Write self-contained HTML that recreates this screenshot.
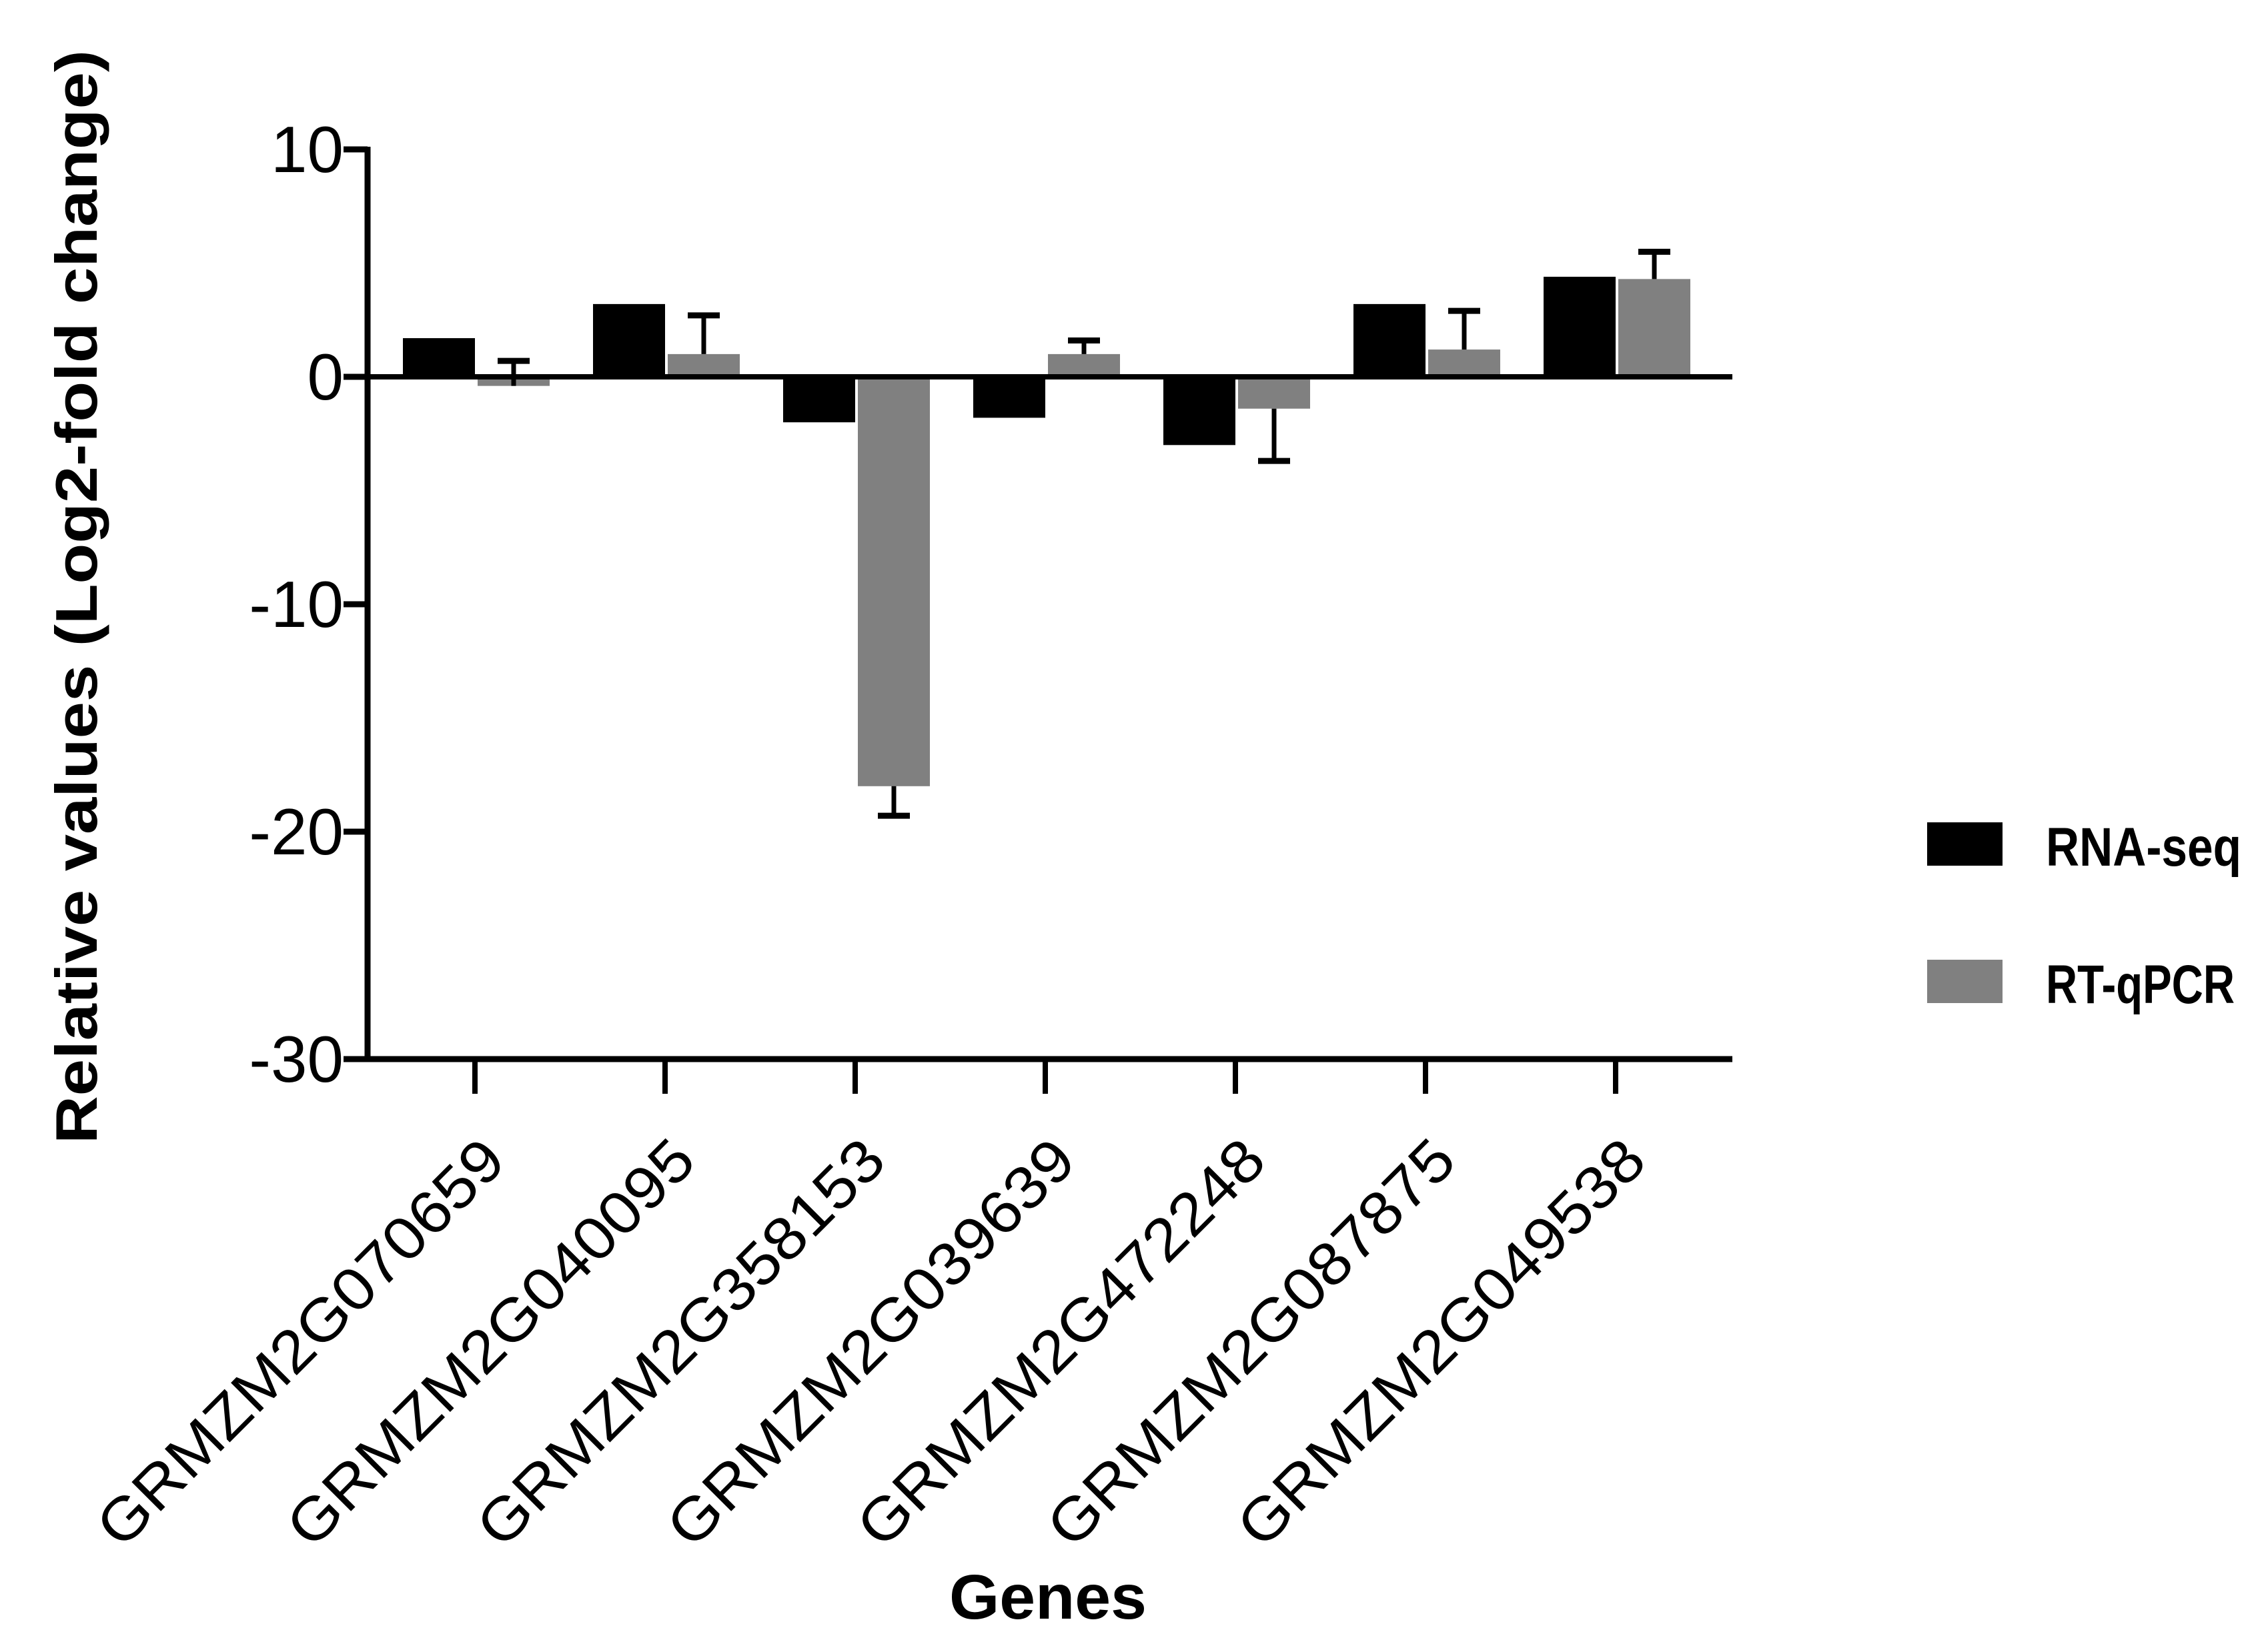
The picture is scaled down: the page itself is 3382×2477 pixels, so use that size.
<!DOCTYPE html>
<html><head><meta charset="utf-8"><style>html,body{margin:0;padding:0;background:#fff}svg{display:block}</style></head>
<body>
<svg id="chart" width="3382" height="2477" viewBox="0 0 3382 2477" xmlns="http://www.w3.org/2000/svg" font-family="Liberation Sans, sans-serif"></svg>
<script>
const categories = ["GRMZM2G070659","GRMZM2G040095","GRMZM2G358153","GRMZM2G039639","GRMZM2G472248","GRMZM2G087875","GRMZM2G049538"];
const rnaSeq = [1.7, 3.2, -2.0, -1.8, -3.0, 3.2, 4.4];
const rtqpcr = [-0.4, 1.0, -18.0, 1.0, -1.4, 1.2, 4.3];
const rtqpcrErrEnd = [0.7, 2.7, -19.3, 1.6, -3.7, 2.9, 5.5];
const yTicks = [10, 0, -10, -20, -30];

const NS = "http://www.w3.org/2000/svg";
const svg = document.getElementById("chart");
const X0 = 551, X1 = 2597, Y10 = 224, Ym30 = 1588;
const yScale = v => Y10 + (10 - v) * (Ym30 - Y10) / 40;
const catX = i => 712 + i * 285;
const BW = 108;
function mk(tag, attrs) { const e = document.createElementNS(NS, tag); for (const k in attrs) e.setAttribute(k, attrs[k]); svg.appendChild(e); return e; }

categories.forEach((c, i) => {
  const cx = catX(i);
  const y0 = yScale(0);
  const yb = yScale(rnaSeq[i]);
  const b = mk("rect", {x: cx - BW, y: Math.min(y0, yb), width: BW, height: Math.abs(yb - y0), fill: "#000"});
  
  
  const yg = yScale(rtqpcr[i]);
  const g = mk("rect", {x: cx + 4, y: Math.min(y0, yg), width: BW, height: Math.abs(yg - y0), fill: "#808080"});
  
  
  const ye = yScale(rtqpcrErrEnd[i]);
  const ex = cx + 4 + BW / 2;
  const e1 = mk("line", {x1: ex, x2: ex, y1: yg, y2: ye, stroke: "#000", "stroke-width": 7});
  
  
  const e2 = mk("line", {x1: ex - 24, x2: ex + 24, y1: ye, y2: ye, stroke: "#000", "stroke-width": 9});
  
  
  const t = mk("line", {x1: cx, x2: cx, y1: Ym30, y2: Ym30 + 52, stroke: "#000", "stroke-width": 8});
  
  
  const lx = cx + 50, ly = 1745;
  const l = mk("text", {x: lx, y: ly, "text-anchor": "end", "font-size": 90, textLength: 820, lengthAdjust: "spacingAndGlyphs", transform: `rotate(-45 ${lx} ${ly})`});
  l.textContent = c;
  
  
});

const ya = mk("line", {x1: X0, x2: X0, y1: Y10 - 4, y2: Ym30 + 4, stroke: "#000", "stroke-width": 9});


const za = mk("line", {x1: X0, x2: X1, y1: yScale(0), y2: yScale(0), stroke: "#000", "stroke-width": 8});


const xa = mk("line", {x1: X0 - 4, x2: X1, y1: Ym30, y2: Ym30, stroke: "#000", "stroke-width": 9});


yTicks.forEach(v => {
  const y = yScale(v);
  const t = mk("line", {x1: X0 - 36, x2: X0, y1: y, y2: y, stroke: "#000", "stroke-width": 9});
  
  
  const l = mk("text", {x: X0 - 36, y: y + 34, "text-anchor": "end", "font-size": 98});
  l.textContent = String(v);
  
  
});
</script>
<svg style="position:absolute;left:0;top:0" width="3382" height="2477" viewBox="0 0 3382 2477" xmlns="http://www.w3.org/2000/svg" font-family="Liberation Sans, sans-serif">
  <text x="0" y="0" transform="translate(145 895) rotate(-90)" text-anchor="middle" font-size="88" font-weight="bold" textLength="1640" lengthAdjust="spacingAndGlyphs">Relative values (Log2-fold change)</text>
  <text x="1571" y="2427" text-anchor="middle" font-size="95" font-weight="bold" textLength="296" lengthAdjust="spacingAndGlyphs">Genes</text>
  <g>
    <rect x="2889" y="1233" width="113" height="65" fill="#000"/>
    <text x="3067" y="1298" font-size="82" font-weight="bold" textLength="293" lengthAdjust="spacingAndGlyphs">RNA-seq</text>
    <rect x="2889" y="1439" width="113" height="65" fill="#808080"/>
    <text x="3067" y="1504" font-size="82" font-weight="bold" textLength="283" lengthAdjust="spacingAndGlyphs">RT-qPCR</text>
  </g>
</svg>
</body></html>
